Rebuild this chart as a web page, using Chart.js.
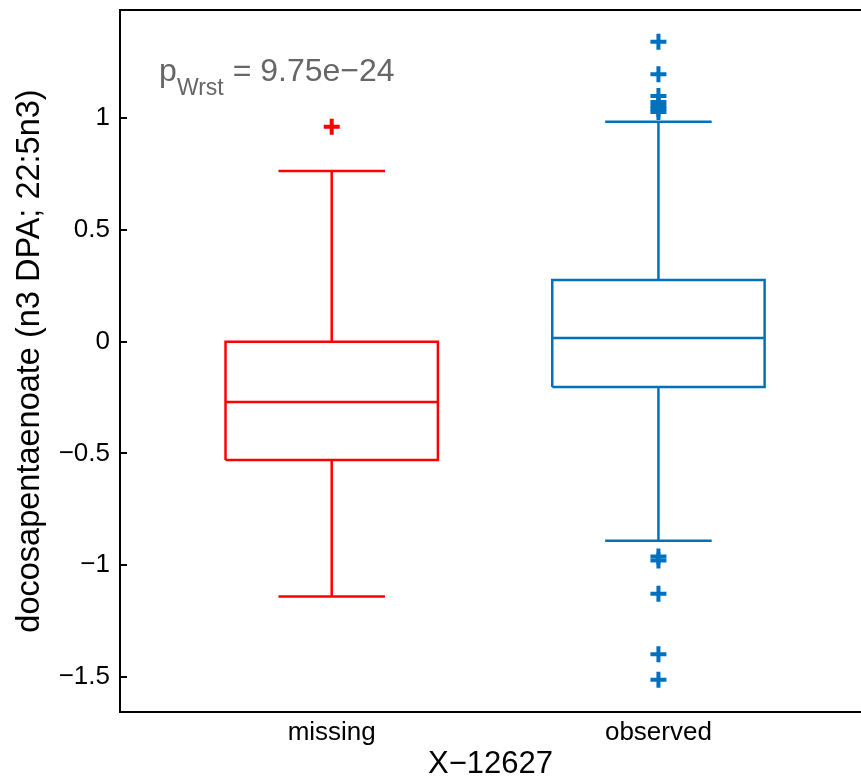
<!DOCTYPE html>
<html><head><meta charset="utf-8">
<script src="https://cdn.jsdelivr.net/npm/chart.js@4.4.1/dist/chart.umd.min.js"></script>
<style>html,body{margin:0;padding:0;background:#fff;overflow:hidden}#wrap{width:861px;height:780px;position:relative}</style>
</head><body><div id="wrap"><canvas id="c" width="861" height="780"></canvas></div>
<script>
// ---- data ----
const categories = ['missing', 'observed'];
const categoryPos = [1, 2];
const q1Values = [-0.530, -0.203];
const medianValues = [-0.270, 0.017];
const q3Values = [0.000, 0.276];
const lowerWhisker = [-1.141, -0.891];
const upperWhisker = [0.764, 0.985];
const outliersMissing = [0.962];
const outliersObserved = [1.343, 1.197, 1.100, 1.073, 1.055, 1.042, 1.028, -0.962, -0.980, -1.129, -1.399, -1.514];
const yTickValues = [-1.5, -1, -0.5, 0, 0.5, 1];
const yTickLabels = ['−1.5', '−1', '−0.5', '0', '0.5', '1'];
const xTitle = 'X−12627';
const yTitle = 'docosapentaenoate (n3 DPA; 22:5n3)';
const pMain = 'p', pSub = 'Wrst', pRest = ' = 9.75e−24';

// ---- style ----
const colors = ['#FF0000', '#0072BD'];
const FONT = '"Liberation Sans", Arial, Helvetica, sans-serif';
const boxHalf = 0.325, capHalf = 0.163;
const annot = {x: 0.4717, y: 1.168};

function boxPath(i) {
  const c = categoryPos[i], gap = {x: c, y: null};
  return [
    {x: c - boxHalf, y: q1Values[i]}, {x: c + boxHalf, y: q1Values[i]},
    {x: c + boxHalf, y: q3Values[i]}, {x: c - boxHalf, y: q3Values[i]},
    {x: c - boxHalf, y: q1Values[i]}, gap,
    {x: c - boxHalf, y: medianValues[i]}, {x: c + boxHalf, y: medianValues[i]}, gap,
    {x: c, y: q3Values[i]}, {x: c, y: upperWhisker[i]}, gap,
    {x: c - capHalf, y: upperWhisker[i]}, {x: c + capHalf, y: upperWhisker[i]}, gap,
    {x: c, y: q1Values[i]}, {x: c, y: lowerWhisker[i]}, gap,
    {x: c - capHalf, y: lowerWhisker[i]}, {x: c + capHalf, y: lowerWhisker[i]}
  ];
}
const outlierSets = [outliersMissing, outliersObserved];

const datasets = [];
categories.forEach((cat, i) => {
  datasets.push({
    type: 'line', label: cat + ' box', data: boxPath(i),
    borderColor: colors[i], borderWidth: 2.5, pointRadius: 0, spanGaps: false,
    tension: 0, fill: false, borderJoinStyle: 'miter', borderCapStyle: 'butt'
  });
  datasets.push({
    type: 'scatter', label: cat + ' outliers',
    data: outlierSets[i].map(v => ({x: categoryPos[i], y: v})),
    pointStyle: 'cross', pointRadius: 8, pointBorderWidth: 4,
    borderColor: colors[i], backgroundColor: colors[i], showLine: false
  });
});

const framePlugin = {
  id: 'frame',
  afterDraw(chart) {
    const {ctx, chartArea: a, scales: {x, y}} = chart;
    ctx.save();
    ctx.strokeStyle = '#000'; ctx.lineWidth = 2;
    ctx.beginPath(); ctx.moveTo(a.left - 1, a.top); ctx.lineTo(a.right, a.top); ctx.stroke();
    y.ticks.forEach(t => {
      const py = Math.round(y.getPixelForValue(t.value));
      ctx.beginPath(); ctx.moveTo(a.left, py); ctx.lineTo(a.left + 7, py); ctx.stroke();
    });
    const px = x.getPixelForValue(annot.x), py = y.getPixelForValue(annot.y);
    ctx.fillStyle = '#666666'; ctx.textBaseline = 'alphabetic'; ctx.textAlign = 'left';
    ctx.font = '32px ' + FONT; ctx.fillText(pMain, px, py);
    let w = ctx.measureText(pMain).width;
    ctx.font = '23px ' + FONT; ctx.fillText(pSub, px + w, py + 14);
    w += ctx.measureText(pSub).width;
    ctx.font = '32px ' + FONT; ctx.fillText(pRest, px + w, py);
    ctx.restore();
  }
};

function noPad(s) { s.paddingTop = 0; s.paddingBottom = 0; s.paddingLeft = 0; s.paddingRight = 0; }

new Chart(document.getElementById('c'), {
  data: {datasets},
  options: {
    responsive: false, animation: false,
    layout: {autoPadding: false, padding: {top: 10, right: 0, left: 0, bottom: 0}},
    plugins: {legend: {display: false}, tooltip: {enabled: false}},
    scales: {
      x: {
        type: 'linear', position: 'bottom', min: 0.352, max: 2.62,
        afterBuildTicks: s => { s.ticks = categoryPos.map(v => ({value: v})); },
        afterFit: s => { s.height = 68; noPad(s); },
        ticks: {
          callback: (v) => categories[categoryPos.indexOf(v)] ?? '',
          color: '#000', font: {family: FONT, size: 26}, padding: 5, maxRotation: 0, autoSkip: false
        },
        grid: {display: true, drawOnChartArea: false, drawTicks: false, color: 'rgba(0,0,0,0)'},
        border: {display: true, color: '#000', width: 2},
        title: {display: true, text: xTitle, color: '#000', font: {family: FONT, size: 31, lineHeight: 1}, padding: {top: 0, bottom: 0}}
      },
      y: {
        type: 'linear', position: 'left', min: -1.658, max: 1.485,
        afterBuildTicks: s => { s.ticks = yTickValues.map(v => ({value: v})); },
        afterFit: s => { s.width = 120; noPad(s); },
        ticks: {
          callback: (v) => yTickLabels[yTickValues.indexOf(v)] ?? '',
          color: '#000', font: {family: FONT, size: 26}, padding: 10, autoSkip: false
        },
        grid: {display: true, drawOnChartArea: false, drawTicks: false, color: 'rgba(0,0,0,0)'},
        border: {display: true, color: '#000', width: 2},
        title: {display: true, text: yTitle, color: '#000', font: {family: FONT, size: 32.5, lineHeight: 1}, padding: {top: 14, bottom: 0}}
      }
    }
  },
  plugins: [framePlugin]
});
</script>
</body></html>
